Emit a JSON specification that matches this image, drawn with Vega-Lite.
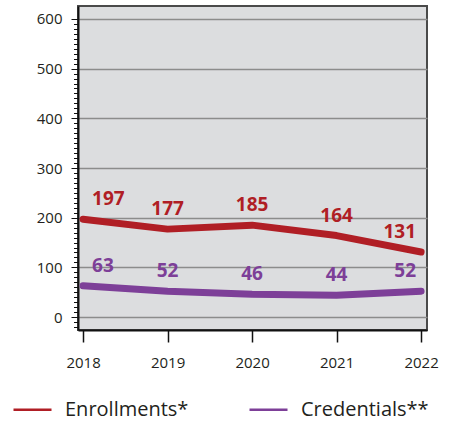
{
  "$schema": "https://vega.github.io/schema/vega-lite/v6.json",
  "width": 349,
  "height": 324,
  "autosize": "none",
  "padding": {"left": 78, "top": 6, "right": 22, "bottom": 92},
  "background": "white",
  "config": {
    "font": "Open Sans",
    "view": {"fill": "#dcdddf", "stroke": "#4a4a4a", "strokeWidth": 2}
  },
  "data": {
    "values": [
      {"year": 2018, "series": "Enrollments*", "value": 197},
      {"year": 2019, "series": "Enrollments*", "value": 177},
      {"year": 2020, "series": "Enrollments*", "value": 185},
      {"year": 2021, "series": "Enrollments*", "value": 164},
      {"year": 2022, "series": "Enrollments*", "value": 131},
      {"year": 2018, "series": "Credentials**", "value": 63},
      {"year": 2019, "series": "Credentials**", "value": 52},
      {"year": 2020, "series": "Credentials**", "value": 46},
      {"year": 2021, "series": "Credentials**", "value": 44},
      {"year": 2022, "series": "Credentials**", "value": 52}
    ]
  },
  "encoding": {
    "x": {
      "field": "year", "type": "quantitative",
      "scale": {"domain": [2017.94, 2022.07], "nice": false, "zero": false},
      "axis": {
        "title": null, "values": [2018, 2019, 2020, 2021, 2022], "format": "d",
        "grid": false, "domainColor": "#111", "domainWidth": 2,
        "tickColor": "#111", "tickWidth": 1.5, "tickSize": 12,
        "labelFontSize": 15, "labelColor": "#231f20", "labelPadding": 13
      }
    },
    "y": {
      "field": "value", "type": "quantitative",
      "scale": {"domain": [-26, 626], "nice": false, "zero": false},
      "axis": {
        "title": null,
        "values": [-20, -10, 0, 10, 20, 30, 40, 50, 60, 70, 80, 90, 100, 110, 120, 130, 140, 150, 160, 170, 180, 190, 200, 210, 220, 230, 240, 250, 260, 270, 280, 290, 300, 310, 320, 330, 340, 350, 360, 370, 380, 390, 400, 410, 420, 430, 440, 450, 460, 470, 480, 490, 500, 510, 520, 530, 540, 550, 560, 570, 580, 590, 600],
        "labelExpr": "datum.value % 100 === 0 ? datum.label : ''",
        "grid": true,
        "gridColor": "#8c8c8c",
        "gridWidth": 1.5,
        "gridOpacity": {"condition": {"test": "datum.value % 100 === 0", "value": 1}, "value": 0},
        "tickSize": {"condition": {"test": "datum.value % 100 === 0", "value": 7}, "value": 4.5},
        "tickColor": "#111", "tickWidth": 1,
        "domainColor": "#111", "domainWidth": 2,
        "labelFontSize": 15, "labelColor": "#231f20", "labelPadding": 9
      }
    },
    "color": {
      "field": "series", "type": "nominal",
      "scale": {"domain": ["Enrollments*", "Credentials**"], "range": ["#b01e25", "#7d3f98"]},
      "legend": {
        "title": null, "orient": "none", "direction": "horizontal",
        "legendX": -66, "legendY": 383,
        "symbolType": "stroke", "symbolSize": 1444, "symbolStrokeWidth": 2.5,
        "labelFontSize": 20, "labelColor": "#231f20", "labelOffset": 12,
        "columnPadding": 55, "labelLimit": 300
      }
    }
  },
  "layer": [
    {"mark": {"type": "line", "strokeWidth": 7, "strokeCap": "round", "strokeJoin": "round"}},
    {
      "transform": [{"filter": "datum.year === 2018"}],
      "mark": {"type": "text", "align": "left", "baseline": "middle", "dx": 9, "dy": -20, "fontSize": 19, "fontWeight": "bold"},
      "encoding": {"text": {"field": "value", "type": "quantitative"}}
    },
    {
      "transform": [{"filter": "datum.year > 2018 && datum.year < 2022"}],
      "mark": {"type": "text", "align": "center", "baseline": "middle", "dx": 0, "dy": -20, "fontSize": 19, "fontWeight": "bold"},
      "encoding": {"text": {"field": "value", "type": "quantitative"}}
    },
    {
      "transform": [{"filter": "datum.year === 2022"}],
      "mark": {"type": "text", "align": "right", "baseline": "middle", "dx": -5, "dy": -20, "fontSize": 19, "fontWeight": "bold"},
      "encoding": {"text": {"field": "value", "type": "quantitative"}}
    }
  ]
}
